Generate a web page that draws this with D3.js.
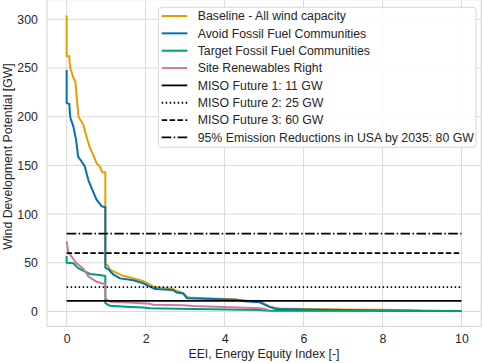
<!DOCTYPE html>
<html>
<head>
<meta charset="utf-8">
<script src="https://cdn.jsdelivr.net/npm/d3@7"></script>
<style>
  html, body { margin: 0; padding: 0; background: #fff; }
  svg { display: block; font-family: "Liberation Sans", Arial, sans-serif; }
</style>
</head>
<body>
<div id="chart"></div>
<script>
// EEI vs cumulative wind potential
const baseline = [
  [0, 304], [0, 262], [0.07, 262], [0.07, 258], [0.1, 249], [0.17, 240], [0.22, 236],
  [0.27, 214], [0.3, 200], [0.42, 192], [0.5, 180], [0.59, 168], [0.68, 160],
  [0.76, 152], [0.84, 149], [0.9, 143], [0.98, 143], [0.98, 49], [1.05, 47],
  [1.1, 43], [1.2, 41], [1.4, 37], [1.7, 34], [1.95, 31], [2.1, 28], [2.2, 25.5],
  [2.5, 24], [2.7, 23], [2.8, 21], [2.95, 19], [3.05, 15], [3.2, 14], [4.2, 12.6],
  [4.55, 11.2], [4.9, 10.2], [5.15, 5], [5.4, 3], [6, 2.5], [7, 2], [8, 1.8],
  [8.7, 1.2], [9, 0.8], [10, 0.5]
];
const avoidFossil = [
  [0, 248], [0, 214], [0.07, 213], [0.08, 204], [0.1, 198], [0.17, 190], [0.24, 176],
  [0.29, 159], [0.38, 154], [0.46, 149], [0.55, 135], [0.67, 123], [0.76, 114.5],
  [0.89, 108], [0.98, 107], [0.98, 45], [1.05, 43.5], [1.18, 38], [1.35, 34],
  [1.69, 32], [1.94, 29], [2.11, 25.5], [2.24, 23], [2.7, 22], [2.78, 19.5],
  [2.95, 18.5], [3.05, 13.5], [4.3, 12], [4.5, 10.5], [4.89, 9.5], [5.15, 4.5],
  [5.3, 2.5], [6, 2], [7, 1.5], [8, 1], [10, 0.5]
];
const targetFossil = [
  [0, 57], [0, 50], [0.17, 49.5], [0.29, 44.5], [0.42, 42], [0.59, 38.5], [0.84, 37.5],
  [0.98, 36.5], [0.98, 8.5], [1.1, 5.8], [1.5, 5], [1.94, 4], [2.11, 3.3], [3.2, 2.6],
  [4.9, 1.5], [5.15, 0.8], [10, 0.5]
];
const siteRenewables = [
  [0, 72], [0.04, 61], [0.13, 56], [0.25, 49.5], [0.42, 44], [0.55, 36], [0.76, 30.5],
  [0.98, 28], [0.98, 13.5], [1.1, 10], [1.69, 9], [2.11, 8], [2.19, 7], [2.95, 6.5],
  [3.2, 5.6], [3.8, 5], [4.89, 3.3], [5.06, 2.3], [5.12, 0.8]
];

const seriesNames = [
  "Baseline - All wind capacity",
  "Avoid Fossil Fuel Communities",
  "Target Fossil Fuel Communities",
  "Site Renewables Right"
];
const seriesColors = ["#E69F00", "#0072B2", "#009E73", "#CC79A7"];

const targetNames = [
  "MISO Future 1: 11 GW",
  "MISO Future 2: 25 GW",
  "MISO Future 3: 60 GW",
  "95% Emission Reductions in USA by 2035: 80 GW"
];
const targetValues = [11, 25, 60, 80];
const targetDashes = ["none", "1.5,2.5", "5.5,2.4", "9.6,2.4,1.5,2.4"];

const xTicks = [0, 2, 4, 6, 8, 10];
const yTicks = [0, 50, 100, 150, 200, 250, 300];

const W = 484, H = 363;
const svg = d3.select("#chart").append("svg").attr("width", W).attr("height", H);

const x = d3.scaleLinear().domain([-0.5, 10.5]).range([46.9, 481.2]);
const y = d3.scaleLinear().domain([-15.25, 320.25]).range([326.35, -0.4]);
const [x0, x1] = x.range();
const [y0, y1] = y.range();

const grid = "#dadada", ink = "#262626", fs = 12.3;

// grid
svg.append("g").selectAll("line").data(xTicks).join("line")
  .attr("x1", d => x(d)).attr("x2", d => x(d)).attr("y1", y1).attr("y2", y0)
  .attr("stroke", grid).attr("stroke-width", 1);
svg.append("g").selectAll("line").data(yTicks).join("line")
  .attr("x1", x0).attr("x2", x1).attr("y1", d => y(d)).attr("y2", d => y(d))
  .attr("stroke", grid).attr("stroke-width", 1);
svg.append("rect")
  .attr("x", x0).attr("y", y1).attr("width", x1 - x0).attr("height", y0 - y1)
  .attr("fill", "none").attr("stroke", grid).attr("stroke-width", 1.2);

// axes
const xAxis = svg.append("g").attr("transform", `translate(0,${y0})`)
  .call(d3.axisBottom(x).tickValues(xTicks).tickSize(0).tickPadding(8));
const yAxis = svg.append("g").attr("transform", `translate(${x0},0)`)
  .call(d3.axisLeft(y).tickValues(yTicks).tickSize(0).tickPadding(9));
[xAxis, yAxis].forEach(a => {
  a.select(".domain").remove();
  a.selectAll("text").attr("font-size", fs).attr("fill", ink)
    .style("font-family", "'Liberation Sans', Arial, sans-serif");
});

svg.append("text")
  .attr("x", 264).attr("y", 357.5).attr("text-anchor", "middle")
  .attr("font-size", fs).attr("fill", ink)
  .text("EEI, Energy Equity Index [-]");
svg.append("text")
  .attr("transform", `translate(11.5,156.5) rotate(-90)`)
  .attr("text-anchor", "middle")
  .attr("font-size", fs).attr("fill", ink)
  .text("Wind Development Potential [GW]");

// curves
const line = d3.line().x(d => x(d[0])).y(d => y(d[1]));
[baseline, avoidFossil, targetFossil, siteRenewables].forEach((s, i) => {
  svg.append("path").datum(s)
    .attr("d", line)
    .attr("fill", "none")
    .attr("stroke", seriesColors[i])
    .attr("stroke-width", 2)
    .attr("stroke-linejoin", "round");
});

// target lines
svg.append("g").selectAll("line").data(targetValues).join("line")
  .attr("x1", x(0)).attr("x2", x(10))
  .attr("y1", d => y(d)).attr("y2", d => y(d))
  .attr("stroke", "#000").attr("stroke-width", 1.8)
  .attr("stroke-dasharray", (d, i) => targetDashes[i]);

// legend
const leg = svg.append("g");
leg.append("rect")
  .attr("x", 158.3).attr("y", 7.3).attr("width", 476 - 158.3).attr("height", 140)
  .attr("rx", 3).attr("fill", "rgba(255,255,255,0.85)")
  .attr("stroke", "#d6d6d6").attr("stroke-width", 1);
const entries = seriesNames.map((n, i) => ({ name: n, color: seriesColors[i], dash: "none" }))
  .concat(targetNames.map((n, i) => ({ name: n, color: "#000", dash: targetDashes[i] })));
const rowY = i => 16 + i * 17.35;
const items = leg.selectAll("g.item").data(entries).join("g").attr("class", "item")
  .attr("transform", (d, i) => `translate(0,${rowY(i)})`);
items.append("line")
  .attr("x1", 161.7).attr("x2", 187.3)
  .attr("stroke", d => d.color).attr("stroke-width", d => d.color === "#000" ? 1.8 : 2)
  .attr("stroke-dasharray", d => d.dash);
items.append("text")
  .attr("x", 197.7).attr("dy", "0.35em")
  .attr("font-size", fs).attr("fill", ink)
  .text(d => d.name);
</script>
</body>
</html>
